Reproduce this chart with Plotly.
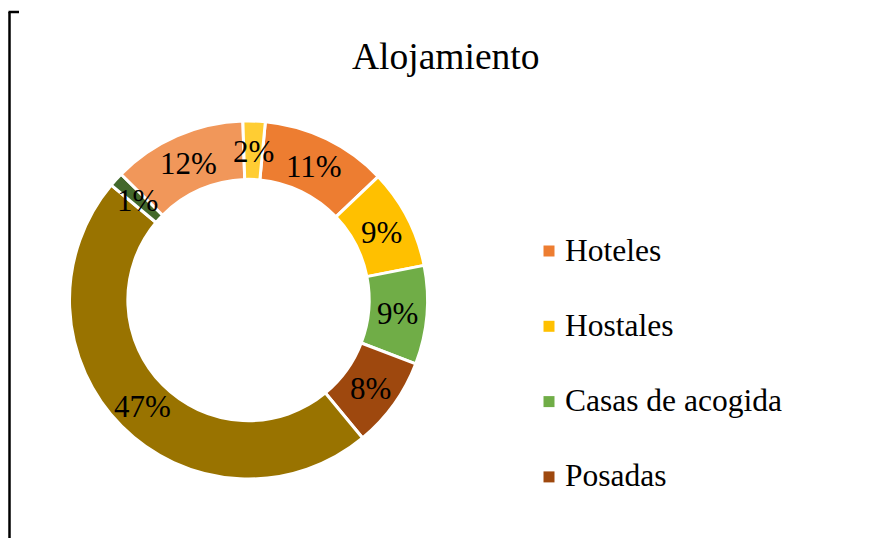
import math
import plotly.graph_objects as go

title = "Alojamiento"
categories = ["Hoteles", "Hostales", "Casas de acogida", "Posadas",
              "Otros", "Camping", "Apartamentos", "Cabañas"]
values = [11.4, 9.0, 8.9, 8.2, 47.1, 1.3, 12.1, 2.0]
colors = ["#ED7D31", "#FFC000", "#70AD47", "#9E480E",
          "#997300", "#43682B", "#F1975A", "#FFCD33"]
legend_items = categories[:4]

W, H = 875, 538
FONT = "Liberation Serif, Times New Roman, serif"

# pie geometry (pixels)
CX, CY, R = 248.5, 300.0, 179.0
HOLE = 0.674
ROT = 5.4

fig = go.Figure()
fig.add_trace(go.Pie(
    labels=categories,
    values=values,
    sort=False,
    direction="clockwise",
    rotation=ROT,
    hole=HOLE,
    marker=dict(colors=colors, line=dict(color="white", width=3)),
    textinfo="none",
    showlegend=False,
    hoverinfo="label+percent",
    domain=dict(x=[(CX - R) / W, (CX + R) / W],
                y=[1 - (CY + R) / H, 1 - (CY - R) / H]),
))

# Data labels: placed at mid-ring, mid-angle of each slice (derived from values)
total = sum(values)
r_mid = R * (1 + HOLE) / 2
cum = 0.0
for v in values:
    ang = math.radians(ROT + (cum + v / 2) / total * 360)
    cum += v
    px = CX + r_mid * math.sin(ang)
    py = CY - r_mid * math.cos(ang)
    fig.add_annotation(text=f"{round(v / total * 100):d}%",
                       x=px / W, y=1 - (py + 1) / H, xref="paper", yref="paper",
                       showarrow=False, xanchor="center", yanchor="middle",
                       font=dict(family=FONT, size=31, color="black"))

# Title
fig.add_annotation(text=title, x=446 / W, y=1 - 56 / H, xref="paper", yref="paper",
                   showarrow=False, xanchor="center", yanchor="middle",
                   font=dict(family=FONT, size=37.5, color="black"))

# Manual legend (only first four entries visible, as in the reference)
shapes = []
for i, name in enumerate(legend_items):
    yc = 251 + i * 75.3
    shapes.append(dict(type="rect", xref="paper", yref="paper",
                       x0=543.5 / W, x1=554.5 / W,
                       y0=1 - (yc + 5.5) / H, y1=1 - (yc - 5.5) / H,
                       fillcolor=colors[i], line=dict(width=0)))
    fig.add_annotation(text=name, x=563 / W, y=1 - (yc - 1) / H,
                       xref="paper", yref="paper", showarrow=False,
                       xanchor="left", yanchor="middle",
                       font=dict(family=FONT, size=31.5, color="black"))

# Partial chart frame on the left
shapes.append(dict(type="line", xref="paper", yref="paper",
                   x0=9.5 / W, x1=9.5 / W, y0=0, y1=1 - 12 / H,
                   line=dict(color="black", width=2.5)))
shapes.append(dict(type="line", xref="paper", yref="paper",
                   x0=8.5 / W, x1=19 / W, y0=1 - 12 / H, y1=1 - 12 / H,
                   line=dict(color="black", width=2.5)))

fig.update_layout(
    width=W, height=H,
    margin=dict(l=0, r=0, t=0, b=0),
    paper_bgcolor="white", plot_bgcolor="white",
    shapes=shapes,
    font=dict(family=FONT),
)

fig.write_html("out.html",
               config={"displayModeBar": False},
               post_script="document.body.style.margin='0';document.body.style.overflow='hidden';")
